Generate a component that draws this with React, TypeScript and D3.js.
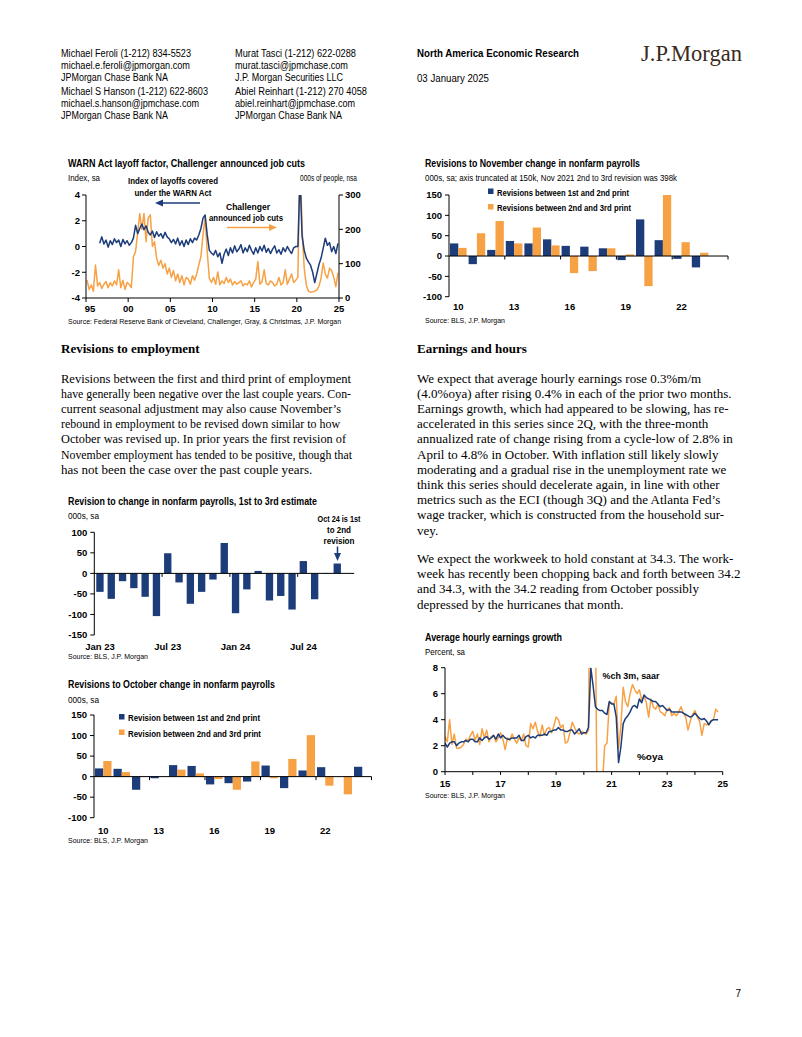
import * as d3 from "d3";

const NAVY = "#1d3d7a";
const ORANGE = "#f7a145";
const SANS = "'Liberation Sans Narrow', 'Arial Narrow', 'Liberation Sans', Arial, sans-serif";
const ARIAL = "'Liberation Sans', Arial, sans-serif";
const SERIF = "'Liberation Serif', 'Times New Roman', serif";

// WARN index (left axis, quarterly from 1996Q3) and Challenger job cuts (000s, quarterly from 1995Q1)
const warnStart = 1996.5;
const warnIndex = [
  0.25, 0.75,
  0.2, 0.5, -0.05, 0.45,
  0.15, 0.6, 0.3, 0.5,
  0.0, 0.55, 0.2, 0.45,
  0.1, 0.3, 0.65, 1.65,
  1.0, 1.4, 1.75, 1.3,
  1.6, 1.1, 0.9, 1.2,
  0.7, 1.15, 0.8, 1.0,
  0.65, 1.1, 0.75, 0.6,
  0.3, 0.55, 0.2, 0.65,
  0.1, 0.45, 0.0, 0.5,
  0.15, 0.6, 0.3, 0.65,
  0.5, 0.9, 1.4, 2.2,
  2.45, 0.9, -0.3, -0.5,
  -0.66, -0.3, -0.8, -0.5,
  -1.3, -0.6, -0.2, -0.7,
  -0.1, -0.5, 0.05, -0.4,
  -0.2, 0.15, -0.5, -0.1,
  -0.4, 0.1, -0.3, -0.6,
  -0.1, -0.5, 0.0, -0.35,
  0.1, -0.45, -0.15, -0.55,
  -0.2, 0.05, -0.5, -0.25,
  -0.6, -0.1, -0.4, 0.0,
  -0.3, -0.55, -0.1, 0.0,
  0.0, 5.5, 0.8, -0.3,
  -0.9, -1.2, -1.45, -2.0,
  -2.8, -2.1, -1.4, -0.9,
  -0.15, 0.64, 0.1, 0.3,
  -0.4, 0.0, -0.55, 0.25,
];
const challengerStart = 1995;
const challengerCuts = [
  52, 25, 38, 20,
  96, 35, 45, 28,
  40, 48, 30, 45,
  35, 50, 38, 82,
  30, 52, 25, 45,
  40, 30, 120, 135,
  190, 246, 200, 246,
  164, 233, 242, 150,
  164, 116, 95, 110,
  87, 100, 70, 87,
  60, 80, 50, 70,
  45, 65, 38, 60,
  55, 40, 65, 52,
  70, 96, 120, 184,
  236, 134, 58, 45,
  60, 40, 76, 38,
  50, 42, 60, 45,
  55, 38, 48, 40,
  45, 50, 35, 42,
  38, 50, 32, 45,
  55, 106, 40, 48,
  82, 42, 38, 50,
  45, 35, 40, 60,
  38, 45, 82, 40,
  55, 70, 45, 52,
  60, 420, 200, 87,
  38, 20, 17, 18,
  20, 23, 35, 58,
  102, 70, 58, 87,
  80, 60, 33, 73,
];
const warnYears = [1995, 2000, 2005, 2010, 2015, 2020, 2025];
const warnYearLabels = ["95", "00", "05", "10", "15", "20", "25"];
const warnLeftTicks = [-4, -2, 0, 2, 4];
const warnRightTicks = [0, 100, 200, 300];

// November revisions, 000s
const novYears = [2010, 2011, 2012, 2013, 2014, 2015, 2016, 2017, 2018, 2019, 2020, 2021, 2022, 2023, 2024];
const novFirstToSecond = [31, -20, 15, 37, 31, 41, 25, 23, 19, -10, 90, 39, -7, -28, null];
const novSecondToThird = [20, 56, 86, 31, 70, 26, -42, -37, 19, 4, -74, 398, 34, 8, null];

// October revisions, 000s
const octYears = novYears;
const octFirstToSecond = [20, 19, -32, -4, 28, 26, -19, -16, -12, 27, -28, 15, 23, 0, 24];
const octSecondToThird = [38, 11, 0, 0, 17, 8, -6, -32, 37, -4, 43, 101, -22, -43, null];

const barYearTicks = [-100, -50, 0, 50, 100, 150];
const barYearLabels = [2010, 2013, 2016, 2019, 2022];

// Monthly revision, 1st to 3rd estimate
const revMonths = [
  "Jan 23", "Feb 23", "Mar 23", "Apr 23", "May 23", "Jun 23", "Jul 23", "Aug 23", "Sep 23", "Oct 23", "Nov 23", "Dec 23",
  "Jan 24", "Feb 24", "Mar 24", "Apr 24", "May 24", "Jun 24", "Jul 24", "Aug 24", "Sep 24", "Oct 24", "Nov 24",
];
const revFirstToThird = [-45, -62, -19, -36, -57, -104, 49, -22, -74, -45, -15, 74, -97, -39, 6, -66, -55, -88, 30, -63, 1, 24];
const revLabels = ["Jan 23", "Jul 23", "Jan 24", "Jul 24"];
const revTicks = [-150, -100, -50, 0, 50, 100];

// Average hourly earnings, monthly from Jan 2015
const aheStart = 2015;
const aheOya = [
  2.2, 1.9, 2.2, 2.3, 2.3, 2.0, 2.2, 2.3, 2.3, 2.4, 2.3, 2.5,
  2.5, 2.3, 2.3, 2.6, 2.4, 2.6, 2.7, 2.5, 2.6, 2.8, 2.5, 2.9,
  2.6, 2.8, 2.6, 2.5, 2.5, 2.6, 2.6, 2.6, 2.8, 2.4, 2.4, 2.7,
  2.8, 2.6, 2.7, 2.6, 2.8, 2.8, 2.8, 2.9, 2.8, 3.1, 3.1, 3.2,
  3.2, 3.4, 3.2, 3.2, 3.1, 3.1, 3.2, 3.2, 2.9, 3.1, 3.3, 2.9,
  3.0, 3.0, 3.4, 8.0, 6.6, 5.0, 4.8, 4.7, 4.7, 4.5, 4.4, 5.4,
  5.2, 5.2, 4.2, 0.7, 1.9, 3.7, 4.1, 4.3, 4.6, 5.0, 5.1, 4.9,
  5.6, 5.3, 5.9, 5.7, 5.6, 5.5, 5.4, 5.4, 5.2, 5.0, 5.1, 4.9,
  4.7, 4.8, 4.6, 4.6, 4.6, 4.6, 4.6, 4.5, 4.4, 4.3, 4.2, 4.3,
  4.5, 4.3, 4.1, 4.0, 4.1, 3.9, 3.6, 3.9, 4.0, 4.0, 4.0,
];
const aheSaar = [
  2.7, 2.3, 4.0, 2.1, 2.9, 1.8, 1.8, 1.9, 2.1, 2.5, 2.4, 2.8,
  3.1, 2.4, 2.9, 2.1, 3.3, 2.6, 3.2, 2.3, 2.7, 2.8, 2.3, 2.6,
  3.0, 2.5, 1.7, 2.6, 2.4, 2.9, 2.5, 2.2, 2.6, 2.4, 2.9, 2.0,
  1.9, 3.7, 3.3, 3.8, 3.1, 2.7, 3.6, 2.8, 3.3, 3.4, 3.0, 3.5,
  4.2, 4.0, 3.4, 3.6, 2.2, 2.3, 3.0, 3.8, 3.4, 3.0, 2.9, 3.1,
  3.0, 2.9, 3.2, 25, 17, 12, -9, -4, -1, 2.0, 2.2, 5.3,
  5.3, 5.2, 5.8, 1.8, 3.5, 6.5, 5.4, 5.0, 6.0, 6.7, 6.3, 6.0,
  6.3, 5.5, 5.8, 5.3, 4.2, 5.6, 5.0, 4.8, 5.2, 4.6, 4.5, 4.3,
  4.8, 4.9, 4.3, 4.5, 4.3, 4.6, 5.0, 4.5, 4.2, 3.2, 3.9, 4.4,
  4.7, 4.2, 3.9, 2.8, 3.7, 3.6, 3.7, 3.9, 4.0, 4.8, 4.6,
];
const aheTicks = [0, 2, 4, 6, 8];
const aheYearLabels = [2015, 2017, 2019, 2021, 2023, 2025];

const leftLines = [
  "Revisions between the first and third print of employment",
  "have generally been negative over the last couple years. Con-",
  "current seasonal adjustment may also cause November\u2019s",
  "rebound in employment to be revised down similar to how",
  "October was revised up. In prior years the first revision of",
  "November employment has tended to be positive, though that",
  "has not been the case over the past couple years.",
];
const leftLineWidths = [290, 290, 280, 279, 285, 291, null];
const rightLines = [
  "We expect that average hourly earnings rose 0.3%m/m",
  "(4.0%oya) after rising 0.4% in each of the prior two months.",
  "Earnings growth, which had appeared to be slowing, has re-",
  "accelerated in this series since 2Q, with the three-month",
  "annualized rate of change rising from a cycle-low of 2.8% in",
  "April to 4.8% in October. With inflation still likely slowly",
  "moderating and a gradual rise in the unemployment rate we",
  "think this series should decelerate again, in line with other",
  "metrics such as the ECI (though 3Q) and the Atlanta Fed\u2019s",
  "wage tracker, which is constructed from the household sur-",
  "vey.",
];
const rightLines2 = [
  "We expect the workweek to hold constant at 34.3. The work-",
  "week has recently been chopping back and forth between 34.2",
  "and 34.3, with the 34.2 reading from October possibly",
  "depressed by the hurricanes that month.",
];

function T({ x, y, children, size = 9, bold = false, anchor = "start", len, family = SANS, fill = "#000" }: any) {
  return (
    <text x={x} y={y} fontSize={size} fontWeight={bold ? "bold" : "normal"} textAnchor={anchor}
      fontFamily={family} fill={fill} textLength={len} lengthAdjust={len ? "spacingAndGlyphs" : undefined}>
      {children}
    </text>
  );
}

function Header() {
  return (
    <g>
      <T x={61} y={57} size={10} len={130}>Michael Feroli  (1-212) 834-5523</T>
      <T x={61} y={69} size={10} len={129}>michael.e.feroli@jpmorgan.com</T>
      <T x={61} y={81} size={10} len={107}>JPMorgan Chase Bank NA</T>
      <T x={61} y={94.5} size={10} len={147}>Michael S Hanson  (1-212) 622-8603</T>
      <T x={61} y={106.5} size={10} len={138}>michael.s.hanson@jpmchase.com</T>
      <T x={61} y={118.5} size={10} len={107}>JPMorgan Chase Bank NA</T>
      <T x={235} y={57} size={10} len={121}>Murat Tasci  (1-212) 622-0288</T>
      <T x={235} y={69} size={10} len={113}>murat.tasci@jpmchase.com</T>
      <T x={235} y={81} size={10} len={108}>J.P. Morgan Securities LLC</T>
      <T x={235} y={94.5} size={10} len={132}>Abiel Reinhart  (1-212) 270 4058</T>
      <T x={235} y={106.5} size={10} len={120}>abiel.reinhart@jpmchase.com</T>
      <T x={235} y={118.5} size={10} len={107}>JPMorgan Chase Bank NA</T>
      <T x={417} y={57} size={10} bold family={ARIAL} len={162}>North America Economic Research</T>
      <T x={417} y={82} size={10} family={ARIAL} len={72}>03 January 2025</T>
      <T x={641} y={61} size={23} family={SERIF} fill="#3a2a20" len={101}>J.P.Morgan</T>
    </g>
  );
}

function WarnChart() {
  const x = d3.scaleLinear().domain([1995, 2025]).range([86, 339]);
  const yL = d3.scaleLinear().domain([-4, 4]).range([298, 195]);
  const yR = d3.scaleLinear().domain([0, 300]).range([298, 195]);
  const warnLine = d3.line<number>().x((_, i) => x(warnStart + 0.125 + i / 4)).y((d) => yL(d));
  const challLine = d3.line<number>().x((_, i) => x(challengerStart + 0.125 + i / 4)).y((d) => yR(d));
  return (
    <g>
      <defs>
        <clipPath id="warnClip"><rect x={86} y={195} width={253} height={103} /></clipPath>
      </defs>
      <T x={68} y={167} size={10} bold len={237}>WARN Act layoff factor, Challenger announced job cuts</T>
      <T x={68} y={181} size={9} len={32}>Index, sa</T>
      <T x={357} y={181} size={9} anchor="end" len={57}>000s of people, nsa</T>
      <g clipPath="url(#warnClip)">
        <path d={challLine(challengerCuts) || ""} fill="none" stroke={ORANGE} strokeWidth={1.5} strokeLinejoin="round" />
        <path d={warnLine(warnIndex) || ""} fill="none" stroke={NAVY} strokeWidth={1.5} strokeLinejoin="round" />
      </g>
      <line x1={86} x2={86} y1={195} y2={298} stroke="#000" />
      <line x1={339} x2={339} y1={195} y2={298} stroke="#000" />
      <line x1={86} x2={339} y1={298} y2={298} stroke="#000" />
      {warnLeftTicks.map((t) => (
        <g key={"l" + t}>
          <line x1={82} x2={86} y1={yL(t)} y2={yL(t)} stroke="#000" />
          <T x={80} y={yL(t) + 3.3} size={9.5} bold anchor="end">{t}</T>
        </g>
      ))}
      {warnRightTicks.map((t) => (
        <g key={"r" + t}>
          <line x1={339} x2={343} y1={yR(t)} y2={yR(t)} stroke="#000" />
          <T x={345} y={yR(t) + 3.3} size={9.5} bold>{t}</T>
        </g>
      ))}
      {warnYears.map((yr, i) => (
        <g key={"x" + yr}>
          <line x1={x(yr)} x2={x(yr)} y1={298} y2={302} stroke="#000" />
          <T x={x(yr) + (i === 0 ? 4 : 0)} y={312} size={9.5} bold anchor="middle">{warnYearLabels[i]}</T>
        </g>
      ))}
      <T x={173} y={184} size={9} bold anchor="middle" len={90}>Index of layoffs covered</T>
      <T x={173} y={195.5} size={9} bold anchor="middle" len={77}>under the WARN Act</T>
      <line x1={200} x2={162} y1={203} y2={203} stroke={NAVY} strokeWidth={1.5} />
      <polygon points="155,203 163,199.5 163,206.5" fill={NAVY} />
      <T x={248} y={210} size={9} bold anchor="middle" len={44}>Challenger</T>
      <T x={246} y={221} size={9} bold anchor="middle" len={74}>announced job cuts</T>
      <line x1={227} x2={270} y1={227.5} y2={227.5} stroke={ORANGE} strokeWidth={1.5} />
      <polygon points="277,227.5 269,224 269,231" fill={ORANGE} />
      <T x={68} y={323.5} size={8} len={273}>Source: Federal Reserve Bank of Cleveland, Challenger, Gray, &amp; Christmas, J.P. Morgan</T>
    </g>
  );
}

function PairBars({ years, first, second, left, right, top, bottom, labelY, legendX, legendY, legendText, legendLens }: any) {
  const x = d3.scaleBand<number>().domain(years).range([left, right]);
  const inner = d3.scaleBand<string>().domain(["a", "b"]).range([0, x.bandwidth()]).paddingOuter(0.12);
  const y = d3.scaleLinear().domain([-100, 150]).range([bottom, top]);
  const bar = (v: number | null, yr: number, k: string, fill: string) => {
    if (v == null || v === 0) return null;
    const c = Math.max(-100, Math.min(150, v));
    return (
      <rect key={k + yr} x={(x(yr) as number) + (inner(k) as number)} y={y(Math.max(0, c))}
        width={inner.bandwidth()} height={Math.abs(y(c) - y(0))} fill={fill} />
    );
  };
  const step = x.step();
  return (
    <g>
      {years.map((yr: number, i: number) => bar(first[i], yr, "a", NAVY))}
      {years.map((yr: number, i: number) => bar(second[i], yr, "b", ORANGE))}
      <line x1={left} x2={left} y1={top} y2={bottom} stroke="#000" />
      <line x1={left} x2={right} y1={y(0)} y2={y(0)} stroke="#000" />
      {years.map((yr: number, i: number) =>
        i > 0 && i % 3 === 0 ? <line key={"bt" + yr} x1={left + i * step} x2={left + i * step} y1={y(0)} y2={y(0) + 3.5} stroke="#000" /> : null
      )}
      <line x1={right} x2={right} y1={y(0)} y2={y(0) + 3.5} stroke="#000" />
      {barYearTicks.map((t) => (
        <g key={"yt" + t}>
          <line x1={left - 4} x2={left} y1={y(t)} y2={y(t)} stroke="#000" />
          <T x={left - 7} y={y(t) + 3.3} size={9.5} bold anchor="end">{t}</T>
        </g>
      ))}
      {barYearLabels.map((yr) => (
        <T key={"xl" + yr} x={(x(yr) as number) + x.bandwidth() / 2} y={labelY} size={9.5} bold anchor="middle">
          {String(yr).slice(2)}
        </T>
      ))}
      <rect x={legendX} y={legendY - 7} width={5.5} height={5.5} fill={NAVY} />
      <T x={legendX + 9} y={legendY} size={9} bold len={legendLens[0]}>{legendText[0]}</T>
      <rect x={legendX} y={legendY + 8.5} width={5.5} height={5.5} fill={ORANGE} />
      <T x={legendX + 9} y={legendY + 15.5} size={9} bold len={legendLens[1]}>{legendText[1]}</T>
    </g>
  );
}

function NovChart() {
  return (
    <g>
      <T x={425} y={167} size={10} bold len={215}>Revisions to November change in nonfarm payrolls</T>
      <T x={425} y={181} size={9} len={252}>000s, sa; axis truncated at 150k, Nov 2021 2nd to 3rd revision was 398k</T>
      <PairBars years={novYears} first={novFirstToSecond} second={novSecondToThird}
        left={449} right={728} top={195} bottom={296.7} labelY={309.5}
        legendX={488} legendY={195.5}
        legendText={["Revisions between 1st and 2nd print", "Revisions between 2nd and 3rd print"]}
        legendLens={[132, 134]} />
      <T x={425} y={322.5} size={8} len={80}>Source: BLS, J.P. Morgan</T>
    </g>
  );
}

function OctChart() {
  return (
    <g>
      <T x={68} y={688} size={10} bold len={207}>Revisions to October change in nonfarm payrolls</T>
      <T x={68} y={702.5} size={9} len={31}>000s, sa</T>
      <PairBars years={octYears} first={octFirstToSecond} second={octSecondToThird}
        left={94} right={371.5} top={715} bottom={817.7} labelY={833.5}
        legendX={119} legendY={721}
        legendText={["Revision between 1st and 2nd print", "Revision between 2nd and 3rd print"]}
        legendLens={[132, 133]} />
      <T x={68} y={842.5} size={8} len={80}>Source: BLS, J.P. Morgan</T>
    </g>
  );
}

function RevChart() {
  const left = 94.3;
  const right = 354.2;
  const x = d3.scaleBand<string>().domain(revMonths).range([left, right]).paddingInner(0.35).paddingOuter(0.175);
  const y = d3.scaleLinear().domain([-150, 100]).range([635, 532.3]);
  const step = x.step();
  return (
    <g>
      <T x={68} y={504.5} size={10} bold len={249}>Revision to change in nonfarm payrolls, 1st to 3rd estimate</T>
      <T x={68} y={518.5} size={9} len={31}>000s, sa</T>
      {revFirstToThird.map((v, i) => (
        <rect key={"rb" + i} x={x(revMonths[i])} y={y(Math.max(0, v))} width={x.bandwidth()}
          height={Math.abs(y(v) - y(0))} fill={NAVY} />
      ))}
      <line x1={left} x2={left} y1={532.3} y2={635} stroke="#000" />
      <line x1={left} x2={right} y1={y(0)} y2={y(0)} stroke="#000" />
      {[6, 12, 18].map((i) => (
        <line key={"rt" + i} x1={left + i * step} x2={left + i * step} y1={y(0)} y2={y(0) + 3.5} stroke="#000" />
      ))}
      {revTicks.map((t) => (
        <g key={"ry" + t}>
          <line x1={left - 4} x2={left} y1={y(t)} y2={y(t)} stroke="#000" />
          <T x={left - 7} y={y(t) + 3.3} size={9.5} bold anchor="end">{t}</T>
        </g>
      ))}
      {revLabels.map((m) => (
        <T key={"rl" + m} x={(x(m) as number) + x.bandwidth() / 2} y={649.5} size={9.5} bold anchor="middle">{m}</T>
      ))}
      <T x={339} y={521.5} size={9} bold anchor="middle" len={43}>Oct 24 is 1st</T>
      <T x={339} y={532.5} size={9} bold anchor="middle" len={24}>to 2nd</T>
      <T x={339} y={544} size={9} bold anchor="middle" len={31}>revision</T>
      <line x1={337.5} x2={337.5} y1={546.5} y2={554} stroke={NAVY} strokeWidth={1.5} />
      <polygon points="337.5,561 334,553 341,553" fill={NAVY} />
      <T x={68} y={659} size={8} len={80}>Source: BLS, J.P. Morgan</T>
    </g>
  );
}

function AheChart() {
  const x = d3.scaleLinear().domain([2015, 2025]).range([445, 722.7]);
  const y = d3.scaleLinear().domain([0, 8]).range([771.7, 667.7]);
  const line = d3.line<number>().x((_, i) => x(aheStart + i / 12)).y((d) => y(d));
  const years = d3.range(2015, 2026);
  return (
    <g>
      <defs>
        <clipPath id="aheClip"><rect x={445} y={667.7} width={278} height={104} /></clipPath>
      </defs>
      <T x={425} y={640.5} size={10} bold len={137}>Average hourly earnings growth</T>
      <T x={425} y={654.5} size={9} len={40}>Percent, sa</T>
      <g clipPath="url(#aheClip)">
        <path d={line(aheSaar) || ""} fill="none" stroke={ORANGE} strokeWidth={1.5} strokeLinejoin="round" />
        <path d={line(aheOya) || ""} fill="none" stroke={NAVY} strokeWidth={1.5} strokeLinejoin="round" />
      </g>
      <line x1={445} x2={445} y1={667.7} y2={771.7} stroke="#000" />
      <line x1={445} x2={722.7} y1={771.7} y2={771.7} stroke="#000" />
      {aheTicks.map((t) => (
        <g key={"ay" + t}>
          <line x1={441} x2={445} y1={y(t)} y2={y(t)} stroke="#000" />
          <T x={438} y={y(t) + 3.3} size={9.5} bold anchor="end">{t}</T>
        </g>
      ))}
      {years.map((yr) => (
        <line key={"ax" + yr} x1={x(yr)} x2={x(yr)} y1={771.7} y2={775} stroke="#000" />
      ))}
      {aheYearLabels.map((yr) => (
        <T key={"al" + yr} x={x(yr)} y={787} size={9.5} bold anchor="middle">{String(yr).slice(2)}</T>
      ))}
      <T x={602.5} y={678.5} size={9} bold len={57}>%ch 3m, saar</T>
      <T x={637} y={760} size={9} bold len={26}>%oya</T>
      <T x={425} y={797.5} size={8} len={80}>Source: BLS, J.P. Morgan</T>
    </g>
  );
}

function BodyText() {
  const lh = 15.2;
  return (
    <g fontFamily={SERIF} fontSize={13} fill="#000">
      <text x={61} y={352.5} fontWeight="bold">Revisions to employment</text>
      <text x={417} y={352.5} fontWeight="bold">Earnings and hours</text>
      {leftLines.map((s, i) => (
        <text key={"L" + i} x={61} y={382.5 + i * lh}
          textLength={leftLineWidths[i] ?? undefined}
          lengthAdjust={leftLineWidths[i] ? "spacingAndGlyphs" : undefined}>{s}</text>
      ))}
      {rightLines.map((s, i) => (
        <text key={"R" + i} x={417} y={382.5 + i * lh}>{s}</text>
      ))}
      {rightLines2.map((s, i) => (
        <text key={"S" + i} x={417} y={563 + i * lh}>{s}</text>
      ))}
    </g>
  );
}

export default function App() {
  return (
    <svg width={802} height={1037} viewBox="0 0 802 1037" style={{ position: "absolute", left: 0, top: 0 }}>
      <rect width={802} height={1037} fill="#fff" />
      <Header />
      <WarnChart />
      <NovChart />
      <BodyText />
      <RevChart />
      <OctChart />
      <AheChart />
      <T x={741} y={997} size={10} family={ARIAL} anchor="end">7</T>
    </svg>
  );
}
